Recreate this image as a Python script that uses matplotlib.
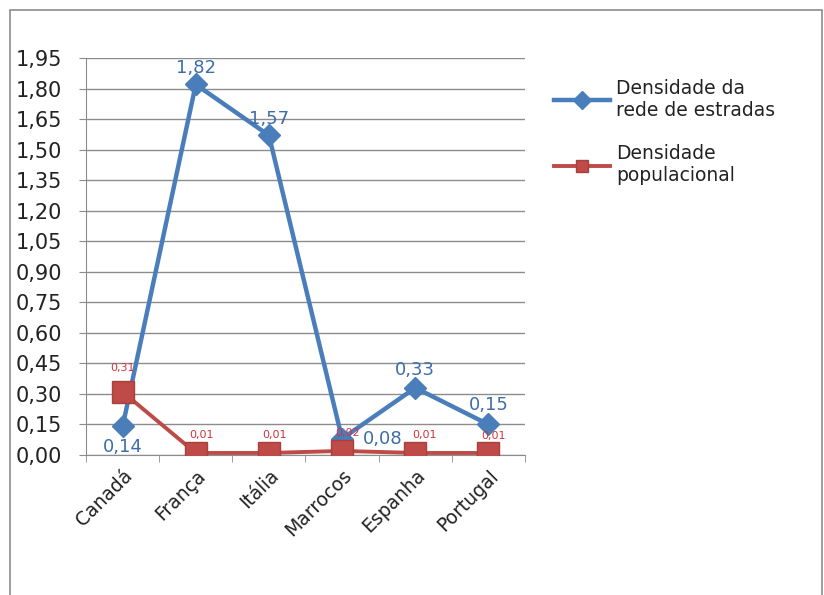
import matplotlib
matplotlib.use("Agg")
import matplotlib.pyplot as plt
import numpy as np
from matplotlib.patches import Rectangle

categories = ["Canadá", "França", "Itália", "Marrocos", "Espanha", "Portugal"]
rede = [0.14, 1.82, 1.57, 0.08, 0.33, 0.15]
popul = [0.31, 0.01, 0.01, 0.02, 0.01, 0.01]
yticks = [0.0, 0.15, 0.30, 0.45, 0.60, 0.75, 0.90, 1.05, 1.20, 1.35, 1.50, 1.65, 1.80, 1.95]

plt.rcParams['font.family'] = ['DejaVu Sans']

BLUE = "#4A7EBB"
BLUE_TXT = "#3E6DA8"
RED = "#BE4B48"
RED_TXT = "#D2323C"
GRID = "#8C8C8C"

fig = plt.figure(figsize=(8.24, 5.95), dpi=100)
fig.patches.append(Rectangle((10/824, -0.1), (822-10)/824, 1.1 - 10/595, transform=fig.transFigure,
                             fill=False, edgecolor="#8C8C8C", lw=1.2))
ax = fig.add_axes([86/824, 1 - 455/595, (525-86)/824, (455-58)/595])

x = np.arange(len(categories))
ax.plot(x, rede, color=BLUE, lw=3.2, marker="D", markersize=11, markerfacecolor=BLUE,
        markeredgecolor=BLUE, label="Densidade da\nrede de estradas", zorder=3)
ax.plot(x, popul, color=RED, lw=2.8, marker="s", markersize=16, markerfacecolor=RED,
        markeredgecolor="#A8403D", label="Densidade\npopulacional", zorder=4)

ax.set_xlim(-0.5, len(categories) - 0.5)
ax.set_ylim(0, 1.95)
ax.set_yticks(yticks)
ax.set_yticklabels([f"{v:.2f}".replace(".", ",") for v in yticks], fontsize=15, color="#222222")
ax.yaxis.grid(True, color=GRID, lw=1.0)
ax.set_axisbelow(True)

ax.set_xticks(x)
ax.set_xticklabels(categories, rotation=45, ha="right", rotation_mode="anchor", fontsize=13.5, color="#222222")
ax.set_xticks(np.arange(len(categories) + 1) - 0.5, minor=True)
ax.tick_params(axis="x", which="major", length=0, pad=8)
ax.tick_params(axis="x", which="minor", length=5, color=GRID, direction="out")
ax.tick_params(axis="y", length=5, color=GRID, pad=12)

for s in ["top", "right"]:
    ax.spines[s].set_visible(False)
ax.spines["left"].set_color(GRID)
ax.spines["bottom"].set_color(GRID)

# blue labels
offs = [(0, -15), (0, 12), (0, 12), (29, 0), (0, 13), (0, 14)]
for i, (v, o) in enumerate(zip(rede, offs)):
    ax.annotate(f"{v:.2f}".replace(".", ","), (x[i], v), xytext=o, textcoords="offset points",
                ha="center", va="center", fontsize=13, color=BLUE_TXT, zorder=5)
red_offs = [(0, 17), (4, 13), (4, 13), (4, 13), (7, 13), (4, 12)]
for i, (v, o) in enumerate(zip(popul, red_offs)):
    ax.annotate(f"{v:.2f}".replace(".", ","), (x[i], v), xytext=o, textcoords="offset points",
                ha="center", va="center", fontsize=8, color=RED_TXT, zorder=5)

leg = fig.legend(loc="upper left", bbox_to_anchor=(537/824, 1 - 62/595), frameon=False,
                 fontsize=13.5, handlelength=3.0, labelspacing=1.3, handletextpad=0.3)
for t in leg.get_texts():
    t.set_color("#222222")
for h in leg.legend_handles:
    h.set_markersize(9)

fig.savefig("out.png", dpi=100)
